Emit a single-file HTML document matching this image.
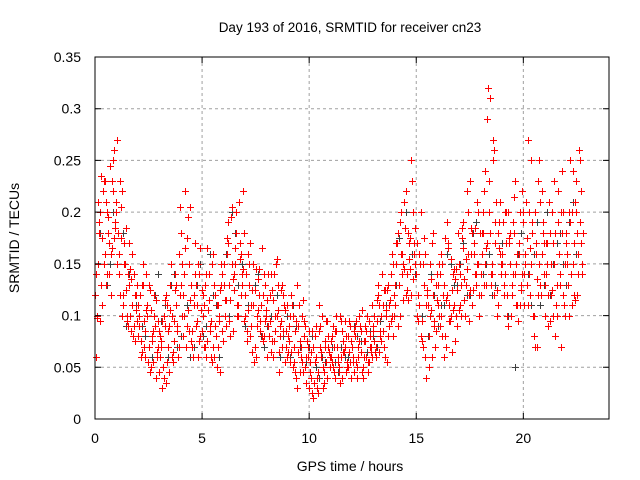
<!DOCTYPE html>
<html><head><meta charset="utf-8"><style>
body{margin:0;background:#fff}
svg{display:block;font-family:"Liberation Sans",sans-serif}
</style></head><body>
<svg id="chart" width="640" height="480" viewBox="0 0 640 480">
<text x="350" y="32" font-size="13.5" text-anchor="middle">Day 193 of 2016, SRMTID for receiver cn23</text>
<text x="350" y="471" font-size="14" text-anchor="middle">GPS time / hours</text>
<text x="0" y="0" font-size="14" text-anchor="middle" transform="translate(19,238) rotate(-90)">SRMTID / TECUs</text>
<g id="grid"></g><g id="dark"></g><g id="red"></g><g id="axes"></g>
</svg>
<script>
const xTicks=[0,5,10,15,20];
const yTicks=[0,0.05,0.1,0.15,0.2,0.25,0.3,0.35];
const yTickLabels=["0","0.05","0.1","0.15","0.2","0.25","0.3","0.35"];
const stepA=0.1, startA=0.0;
const valuesA=[120,98,190,235,150,210,180,245,165,260,
200,140,175,110,150,95,130,85,140,105,
80,120,65,95,140,70,105,55,90,60,
45,75,100,35,85,130,60,95,110,70,
180,120,220,90,150,75,110,130,60,165,
85,110,60,140,95,70,120,50,100,150,
130,90,170,115,205,140,180,100,160,220,
120,75,150,90,110,60,135,95,165,80,
100,140,65,115,85,155,45,95,120,70,
80,55,110,70,40,90,60,115,50,75,
30,65,20,90,45,70,100,35,55,80,
60,90,40,70,50,95,65,45,80,55,
70,45,95,60,85,50,75,100,55,65,
90,60,120,80,140,70,105,130,95,150,
110,170,130,200,150,120,180,145,230,160,
140,95,200,70,160,120,50,105,180,85,
130,90,150,60,115,170,100,140,75,125,
150,100,190,130,160,230,110,170,140,200,
120,180,150,290,200,130,250,170,110,210,
160,120,200,90,180,140,230,110,170,130,
200,150,270,120,180,80,160,230,130,190,
100,150,210,120,170,80,190,140,240,110,
180,130,250,150,210,120,260,170];
const stepB=0.1, startB=0.05;
const valuesB=[60,150,200,110,230,140,170,120,250,190,
150,230,100,170,125,90,145,110,75,130,
100,60,130,85,110,45,75,120,40,95,
80,30,115,55,90,150,65,125,85,205,
100,140,70,195,115,85,170,95,140,105,
120,70,165,90,55,130,80,110,45,140,
100,160,130,195,85,150,110,170,130,95,
140,105,170,65,125,90,145,110,75,130,
60,95,125,75,150,105,80,130,55,110,
90,65,100,45,130,75,55,95,35,70,
55,25,80,40,110,60,30,75,95,50,
80,45,100,60,35,85,70,50,95,40,
55,90,40,75,105,60,85,45,70,110,
75,115,65,100,85,125,55,110,160,100,
150,90,190,140,210,125,170,250,135,185,
100,160,75,130,40,110,150,60,95,140,
100,160,120,80,190,110,65,145,100,180,
110,175,135,220,95,160,125,185,150,100,
160,220,130,320,180,140,260,100,190,150,
190,140,100,170,120,215,150,95,200,140,
110,175,140,250,100,200,70,150,220,170,
140,90,180,125,230,100,160,70,200,150,
150,100,200,120,230,160,190,140];
const stepC=0.1, startC=0.025;
const valuesC=[140,210,95,175,230,130,195,160,220,185,
270,160,205,120,185,140,100,160,90,120,
110,75,150,60,100,130,50,85,115,70,
60,95,40,120,70,105,55,140,90,160,
130,80,165,105,205,70,120,90,150,80,
100,130,75,115,60,160,90,70,125,85,
150,115,190,80,135,165,100,210,120,145,
100,160,80,125,55,145,105,85,120,95,
115,80,140,60,100,130,90,70,110,85,
65,100,50,85,30,110,70,45,90,60,
45,85,35,60,25,90,50,70,40,65,
75,50,85,55,100,40,65,80,50,90,
60,80,50,100,65,40,90,55,80,60,
100,70,130,85,110,60,125,90,140,80,
130,180,100,160,145,220,115,175,200,150,
170,110,80,150,60,125,100,170,90,130,
110,140,80,175,120,95,155,105,135,90,
140,185,115,155,200,125,180,140,210,120,
140,200,240,170,310,150,120,210,180,160,
150,200,120,175,100,190,140,160,110,220,
140,210,110,165,190,70,135,250,120,180,
130,170,95,200,150,110,220,130,180,100,
160,200,140,240,115,180,250,150];
const stepE=0.1, startE=0.075;
const valuesE=[100,180,130,220,160,200,140,230,175,210,
180,120,220,150,100,170,135,80,120,95,
90,130,70,105,55,125,80,100,65,85,
70,50,90,110,45,100,75,130,60,120,
150,100,175,85,130,60,140,110,75,125,
70,140,105,85,150,60,110,95,130,75,
115,175,95,150,125,200,110,155,140,180,
85,130,110,150,70,100,120,80,140,105,
90,120,75,140,100,65,125,85,105,60,
75,120,55,95,65,45,100,80,60,85,
40,70,55,30,85,65,45,95,70,60,
55,70,85,45,60,75,95,55,65,75,
85,55,70,90,45,75,60,95,70,85,
65,95,110,75,125,100,80,115,100,120,
170,130,160,115,185,140,155,120,170,140,
120,150,95,175,110,80,135,120,70,115,
150,100,130,70,165,95,125,110,145,105,
130,165,100,145,120,185,160,130,150,180,
180,130,165,230,140,270,190,125,165,140,
130,170,200,150,130,180,110,160,125,190,
160,130,200,150,100,170,120,210,160,140,
170,120,150,100,180,130,160,200,120,170,
130,190,110,170,200,140,220,180];
const stepD=0.3, startD=0.1;
const valuesD=[100,230,150,200,180,140,110,90,70,120,95,60,140,80,110,70,150,90,120,60,160,200,130,90,110,140,70,100,120,80,60,90,45,70,50,60,80,55,70,60,90,75,65,80,95,110,150,175,200,160,120,60,140,90,110,150,130,170,120,190,140,160,130,170,100,50,180,140,160,110,200,150,180,130,210];
const stepD2=0.3, startD2=0.25;
const valuesD2=[180,130,200,120,90,160,100,80,60,140,110,130,70,100,60,130,80,160,110,140,100,180,150,110,130,80,90,140,60,100,110,70,55,80,40,55,70,45,60,75,80,60,85,70,110,90,130,160,170,140,100,80,120,110,160,130,150,120,180,100,150,120,190,140,120,160,140,110,190,130,120,170,150,190,160];

const L=95,R=609,T=57,B=419,XMAX=24,YMAX=0.35;
const X=v=>L+(v/XMAX)*(R-L);
const Y=v=>B-(v/YMAX)*(B-T);
const NS='http://www.w3.org/2000/svg';
function mk(tag,attrs,parent){const e=document.createElementNS(NS,tag);for(const k in attrs)e.setAttribute(k,attrs[k]);parent.appendChild(e);return e;}
const grid=document.getElementById('grid'),axes=document.getElementById('axes');
xTicks.forEach((t,i)=>{
  const x=X(t);
  if(t>0){const g=mk('line',{x1:x,x2:x,y1:T,y2:B,stroke:'#a0a0a0','stroke-dasharray':'3,3'},grid);
  
  }
  const tk=mk('path',{d:`M${x},${B}v-6M${x},${T}v6`,stroke:'#000'},axes);
  
  
  const lb=mk('text',{x:x,y:B+24,'font-size':'14','text-anchor':'middle'},axes);lb.textContent=String(t);
  
  
});
yTicks.forEach((t,i)=>{
  const y=Y(t);
  if(t>0&&t<YMAX){const g=mk('line',{x1:L,x2:R,y1:y,y2:y,stroke:'#a0a0a0','stroke-dasharray':'3,3'},grid);
  
  }
  const tk=mk('path',{d:`M${L},${y}h6M${R},${y}h-6`,stroke:'#000'},axes);
  
  
  const lb=mk('text',{x:L-14,y:y+5,'font-size':'14','text-anchor':'end'},axes);lb.textContent=yTickLabels[i];
  
  
});
const frame=mk('rect',{x:L,y:T,width:R-L,height:B-T,fill:'none',stroke:'#000'},axes);


function plot(vals,start,step,color,gid){
  let d='';
  vals.forEach((v,i)=>{const x=Math.round(X(start+i*step))+0.5,y=Math.round(Y(v/1000))+0.5;d+=`M${x-3.5},${y}h7M${x},${y-3.5}v7`;});
  const p=mk('path',{d:d,stroke:color,'stroke-width':'1',fill:'none'},document.getElementById(gid));
  return p;
}
const pd=plot(valuesD,startD,stepD,'#404040','dark');


const pd2=plot(valuesD2,startD2,stepD2,'#404040','dark');


const pa=plot(valuesA,startA,stepA,'#ff0000','red');


const pb=plot(valuesB,startB,stepB,'#ff0000','red');


const pc=plot(valuesC,startC,stepC,'#ff0000','red');


const pe=plot(valuesE,startE,stepE,'#ff0000','red');


</script>
</body></html>
